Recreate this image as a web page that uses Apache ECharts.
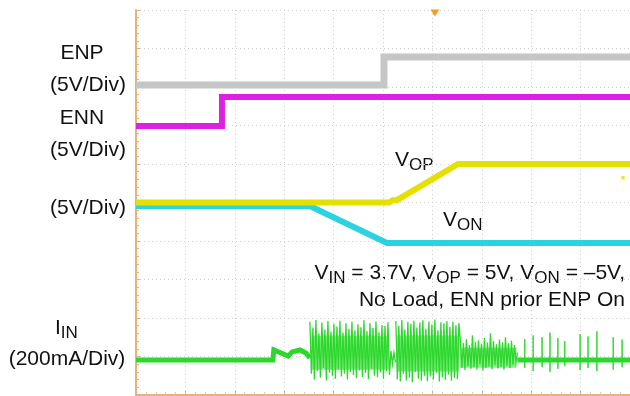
<!DOCTYPE html>
<html><head><meta charset="utf-8">
<script src="https://cdn.jsdelivr.net/npm/echarts@6/dist/echarts.min.js"></script>
<style>html,body{margin:0;padding:0;background:#fff}#c{width:630px;height:396px}</style>
</head><body><div id="c"></div>
<script>
// Time axis in divisions (0..10), vertical axis in divisions (0..10)
const enp = [[0, 8.05], [5.02, 8.05], [5.02, 8.78], [10, 8.78]];
const enn = [[0, 6.99], [1.74, 6.99], [1.74, 7.74], [10, 7.74]];
const vop = [[0, 5.0], [5.12, 5.0], [5.2, 5.06], [5.28, 5.06], [6.52, 6.0], [10, 6.0]];
const von = [[0, 4.91], [3.52, 4.91], [5.08, 3.95], [10, 3.95]];
const vopDot = [[9.86, 5.64]];
const iinPre = [[0, 0.91], [2.77, 0.91], [2.79, 1.17], [3.08, 1.01], [3.16, 1.12], [3.32, 1.17], [3.44, 1.09], [3.52, 0.96]];
const samplePeriod = 0.0304;
const burst1Start = 3.52;
const burst1 = [1.90,0.55,1.75,0.40,1.95,0.62,1.60,0.45,1.88,0.70,1.70,0.38,1.92,0.58,1.65,0.50,1.85,0.42,1.78,0.66,1.93,0.48,1.62,0.55,1.86,0.40,1.72,0.60,1.90,0.52,1.68,0.44,1.84,0.64,1.76,0.47,1.94,0.57,1.66,0.41,1.87,0.68,1.74,0.50,1.91,0.46,1.63,0.59,1.82,0.43,1.79,0.61,1.89,0.52,1.15,0.80,1.10,0.85];
const burst2Start = 5.26;
const burst2 = [1.92,0.40,1.80,0.35,1.95,0.55,1.70,0.38,1.90,0.45,1.85,0.33,1.93,0.60,1.75,0.42,1.88,0.37,1.94,0.50,1.72,0.36,1.91,0.48,1.83,0.40,1.96,0.58,1.68,0.35,1.89,0.46,1.86,0.39,1.92,0.53,1.77,0.37,1.90,0.44,1.81,0.41,1.87,1.40,0.70,1.35,0.65,1.45,0.75,1.30,0.68,1.55,0.72,1.38,0.66,1.42,0.80,1.33,0.64,1.48,0.70,1.36,0.74,1.60,0.67,1.40,0.78,1.32,0.69,1.44,0.73,1.37,0.66,1.50,0.76,1.34,0.70,1.41,0.79,1.30,0.85,1.10];
// dense core of the switching bursts (centre level per segment)
const burstCoreA = [[3.55, 1.10], [5.12, 1.10]];
const burstCoreB = [[5.28, 1.08], [6.54, 1.08]];
const burstCoreC = [[6.56, 0.97], [7.70, 0.97]];
const iinTailBase = [[7.72, 0.91], [10, 0.91]];
const spikeTimes = [7.87, 8.04, 8.22, 8.38, 8.54, 8.68, 8.99, 9.15, 9.33, 9.66, 9.84];
const spikeTops = [1.45, 1.55, 1.50, 1.62, 1.48, 1.40, 1.58, 1.52, 1.65, 1.50, 1.44];
const spikeBottoms = [0.70, 0.62, 0.72, 0.60, 0.68, 0.75, 0.65, 0.70, 0.62, 0.66, 0.72];
const triggerPos = [[6.05, 10]];

const toPts = (t0, arr) => arr.map((v, i) => [t0 + i * samplePeriod, v]);
const spikes = [];
spikeTimes.forEach((t, i) => { spikes.push([t, 0.91], [t, spikeTops[i]], [t, spikeBottoms[i]], [t, 0.91]); });

const FONT = '"Liberation Sans", Arial, Helvetica, sans-serif';
const C = { enp: '#c6c6c6', enn: '#e020e0', vop: '#e4e000', von: '#2ad2e2', iin: '#2cd82c', border: '#eab274' };
const grid = '#cfcfcf';

const chart = echarts.init(document.getElementById('c'), null, { renderer: 'canvas' });
const line = (data, color, width, z, opacity) => ({ type: 'line', data, symbol: 'none', lineStyle: { color, width, cap: 'butt', join: 'miter', opacity: opacity == null ? 1 : opacity }, z: z || 2, animation: false, silent: true });

chart.setOption({
  animation: false,
  backgroundColor: '#fff',
  grid: { left: 136, top: 10, width: 494, height: 385, containLabel: false },
  xAxis: [
    { type: 'value', min: 0, max: 10, interval: 1, position: 'top',
      axisLine: { show: true, lineStyle: { color: C.border, width: 2 } },
      axisTick: { show: true, inside: true, length: 4, lineStyle: { color: C.border } },
      minorTick: { show: true, splitNumber: 5, length: 3, lineStyle: { color: C.border } },
      axisLabel: { show: false },
      splitLine: { show: true, lineStyle: { color: grid, type: [1, 3], width: 1 } } },
    { type: 'value', min: 0, max: 10, interval: 1, position: 'bottom',
      axisLine: { show: false },
      axisTick: { show: true, inside: true, length: 4, lineStyle: { color: '#bbb' } },
      minorTick: { show: true, splitNumber: 5, length: 3, lineStyle: { color: '#ccc' } },
      axisLabel: { show: false }, splitLine: { show: false } }
  ],
  yAxis: { type: 'value', min: 0, max: 10, interval: 1,
    axisLine: { show: true, lineStyle: { color: C.border, width: 2 } },
    axisTick: { show: true, inside: true, length: 4, lineStyle: { color: C.border } },
    minorTick: { show: true, splitNumber: 5, length: 3, lineStyle: { color: C.border } },
    axisLabel: { show: false },
    splitLine: { show: true, lineStyle: { color: grid, type: [1, 3], width: 1 } } },
  series: [
    Object.assign(line(enp, C.enp, 7, 2), { markPoint: { symbol: 'triangle', symbolRotate: 180, symbolSize: [9, 7], symbolOffset: [0, 3], itemStyle: { color: '#f0a020' }, label: { show: false }, data: [{ coord: triggerPos[0] }] } }),
    line(enn, C.enn, 6, 3),
    line(von, C.von, 6, 3),
    line(vop, C.vop, 6, 4),
    { type: 'scatter', data: vopDot, symbolSize: 4, itemStyle: { color: C.vop }, animation: false, silent: true },
    line(iinPre, C.iin, 5, 3),
    line(burstCoreA, C.iin, 34, 2, 0.55),
    line(burstCoreB, C.iin, 36, 2, 0.55),
    line(burstCoreC, C.iin, 20, 2, 0.55),
    line(toPts(burst1Start, burst1), C.iin, 1.3, 3),
    line(toPts(burst2Start, burst2), C.iin, 1.3, 3),
    line(iinTailBase, C.iin, 5, 3),
    line(spikes, C.iin, 1, 3)
  ],
  graphic: [
    { type: 'text', x: 82, y: 53, style: { text: 'ENP', font: '21px ' + FONT, fill: '#111', align: 'center', verticalAlign: 'middle' } },
    { type: 'text', x: 88, y: 85, style: { text: '(5V/Div)', font: '21px ' + FONT, fill: '#111', align: 'center', verticalAlign: 'middle' } },
    { type: 'text', x: 82, y: 118, style: { text: 'ENN', font: '21px ' + FONT, fill: '#111', align: 'center', verticalAlign: 'middle' } },
    { type: 'text', x: 88, y: 150, style: { text: '(5V/Div)', font: '21px ' + FONT, fill: '#111', align: 'center', verticalAlign: 'middle' } },
    { type: 'text', x: 88, y: 208, style: { text: '(5V/Div)', font: '21px ' + FONT, fill: '#111', align: 'center', verticalAlign: 'middle' } },
    { type: 'text', x: 55, y: 328, style: { text: '{v|I}{s|IN}', fill: '#111', align: 'left', verticalAlign: 'middle',
        rich: { v: { fontSize: 21, fontFamily: FONT, fill: '#111' }, s: { fontSize: 17, fontFamily: FONT, fill: '#111', padding: [11, 0, 0, 0] } } } },
    { type: 'text', x: 67, y: 359, style: { text: '(200mA/Div)', font: '21px ' + FONT, fill: '#111', align: 'center', verticalAlign: 'middle' } },
    { type: 'text', x: 395, y: 160, style: { text: '{v|V}{s|OP}', fill: '#111', align: 'left', verticalAlign: 'middle',
        rich: { v: { fontSize: 21, fontFamily: FONT }, s: { fontSize: 17, fontFamily: FONT, padding: [11, 0, 0, 0] } } } },
    { type: 'text', x: 443, y: 220, style: { text: '{v|V}{s|ON}', fill: '#111', align: 'left', verticalAlign: 'middle',
        rich: { v: { fontSize: 21, fontFamily: FONT }, s: { fontSize: 17, fontFamily: FONT, padding: [11, 0, 0, 0] } } } },
    { type: 'text', x: 625, y: 273, style: { text: '{v|V}{s|IN}{v| = 3.7V, V}{s|OP}{v| = 5V, V}{s|ON}{v| = \u20135V,}', fill: '#111', align: 'right', verticalAlign: 'middle',
        rich: { v: { fontSize: 21, fontFamily: FONT }, s: { fontSize: 17, fontFamily: FONT, padding: [11, 0, 0, 0] } } } },
    { type: 'text', x: 625, y: 300, style: { text: 'No Load, ENN prior ENP On', font: '21px ' + FONT, fill: '#111', align: 'right', verticalAlign: 'middle' } }
  ]
});
</script>
</body></html>
